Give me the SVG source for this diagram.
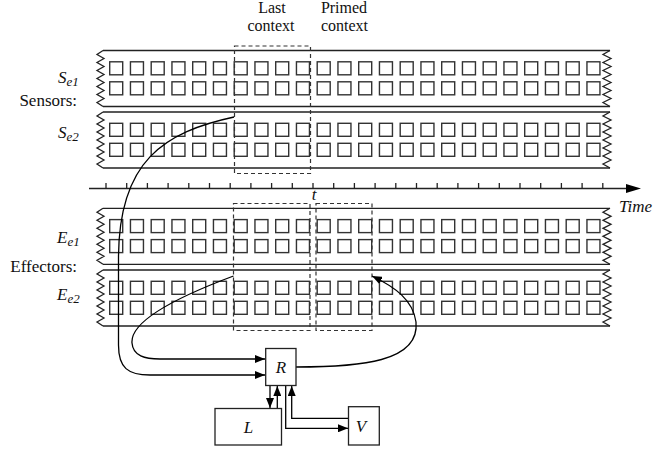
<svg xmlns="http://www.w3.org/2000/svg" xmlns:xlink="http://www.w3.org/1999/xlink" width="655" height="451" viewBox="0 0 655 451">
<style>
.ln{fill:none;stroke:#222;stroke-width:1.3}
.sq{fill:none;stroke:#333;stroke-width:1.4}
.dash{fill:none;stroke:#333;stroke-width:1.2;stroke-dasharray:4 3}
.con{fill:none;stroke:#000;stroke-width:1.3}
.box{fill:#fff;stroke:#222;stroke-width:1.3}
.t{font-family:"Liberation Serif","Times New Roman",serif;font-size:17px;fill:#111}
.h{font-size:16px}
.i{font-style:italic}
</style>
<defs>
<marker id="ah" viewBox="0 0 10 8" refX="10" refY="4" markerWidth="10" markerHeight="8" markerUnits="userSpaceOnUse" orient="auto">
<path d="M0,0 L10,4 L0,8 Z" fill="#000"/>
</marker>
<rect id="sq" class="sq" width="13" height="13"/>
<g id="row">
<use xlink:href="#sq" x="109.7"/><use xlink:href="#sq" x="130.45"/><use xlink:href="#sq" x="151.2"/><use xlink:href="#sq" x="171.95"/><use xlink:href="#sq" x="192.7"/><use xlink:href="#sq" x="213.45"/><use xlink:href="#sq" x="234.2"/><use xlink:href="#sq" x="254.95"/><use xlink:href="#sq" x="275.7"/><use xlink:href="#sq" x="296.45"/><use xlink:href="#sq" x="317.2"/><use xlink:href="#sq" x="337.95"/><use xlink:href="#sq" x="358.7"/><use xlink:href="#sq" x="379.45"/><use xlink:href="#sq" x="400.2"/><use xlink:href="#sq" x="420.95"/><use xlink:href="#sq" x="441.7"/><use xlink:href="#sq" x="462.45"/><use xlink:href="#sq" x="483.2"/><use xlink:href="#sq" x="503.95"/><use xlink:href="#sq" x="524.7"/><use xlink:href="#sq" x="545.45"/><use xlink:href="#sq" x="566.2"/><use xlink:href="#sq" x="586.95"/>
</g>
<g id="band">
<path class="ln" d="M103,0 H610 M103,56 H610"/>
<path class="ln" d="M103,0 L97,4 L104,8 L97,12 L104,16 L97,20 L104,24 L97,28 L104,32 L97,36 L104,40 L97,44 L104,48 L97,52 L103,56"/>
<path class="ln" d="M610,0 L603,4 L611,8 L603,12 L611,16 L603,20 L611,24 L603,28 L611,32 L603,36 L611,40 L603,44 L611,48 L603,52 L610,56"/>
<use xlink:href="#row" y="11.3"/>
<use xlink:href="#row" y="31.3"/>
</g>
</defs>

<g id="band-se1"><use xlink:href="#band" y="50.5"/></g>
<g id="band-se2"><use xlink:href="#band" y="112"/></g>
<g id="band-ee1"><use xlink:href="#band" y="208.3"/></g>
<g id="band-ee2"><use xlink:href="#band" y="270"/></g>

<g id="time-axis">
<path class="ln" d="M89,188.5 H630"/>
<path d="M626,184 L641,188.5 L626,193 Z" fill="#000"/>
<path class="ln" d="M106,183 V188.5 M126.7,183 V188.5 M147.4,183 V188.5 M168.1,183 V188.5 M188.8,183 V188.5 M209.5,183 V188.5 M230.2,183 V188.5 M250.9,183 V188.5 M271.6,183 V188.5 M292.3,183 V188.5 M313,183 V188.5 M333.7,183 V188.5 M354.4,183 V188.5 M375.1,183 V188.5 M395.8,183 V188.5 M416.5,183 V188.5 M437.2,183 V188.5 M457.9,183 V188.5 M478.6,183 V188.5 M499.3,183 V188.5 M520,183 V188.5 M540.7,183 V188.5 M561.4,183 V188.5 M582.1,183 V188.5 M602.8,183 V188.5"/>
<text class="t i" x="314" y="200" text-anchor="middle">t</text>
<text class="t i" x="619" y="212">Time</text>
</g>

<g id="context-boxes">
<rect class="dash" x="234.5" y="46" width="76" height="127.5"/>
<rect class="dash" x="233.5" y="203.5" width="76.5" height="127"/>
<rect class="dash" x="316" y="203.5" width="56" height="127"/>
</g>

<g id="labels">
<text class="t h" x="272" y="13" text-anchor="middle">Last</text>
<text class="t h" x="271" y="31" text-anchor="middle">context</text>
<text class="t h" x="344" y="13" text-anchor="middle">Primed</text>
<text class="t h" x="344.5" y="31" text-anchor="middle">context</text>
<text class="t i" x="58" y="83">S<tspan font-size="13" dy="3">e1</tspan></text>
<text class="t" x="77" y="106" text-anchor="end">Sensors:</text>
<text class="t i" x="58" y="138">S<tspan font-size="13" dy="3">e2</tspan></text>
<text class="t i" x="57" y="243">E<tspan font-size="13" dy="3">e1</tspan></text>
<text class="t" x="77" y="272" text-anchor="end">Effectors:</text>
<text class="t i" x="57" y="300">E<tspan font-size="13" dy="3">e2</tspan></text>
</g>

<g id="connectors">
<path class="con" d="M234,117 C165,132 118,160 118.5,260 L118.5,345 C118.5,368 128,375 150,375 L265,375" marker-end="url(#ah)"/>
<path class="con" d="M233.5,276 C180,296 130,320 132,343 C133,356 145,359 160,359 L265,359" marker-end="url(#ah)"/>
<path class="con" d="M296,367 C360,367 420,362 416,322 C413,300 395,287 372,276" marker-end="url(#ah)"/>
<path class="con" d="M270,386 V408" marker-end="url(#ah)"/>
<path class="con" d="M277.3,408 V386" marker-end="url(#ah)"/>
<path class="con" d="M285.7,386 V428.3 H348" marker-end="url(#ah)"/>
<path class="con" d="M348,418.3 H291.7 V386" marker-end="url(#ah)"/>
</g>

<g id="node-R">
<rect class="box" x="265.7" y="348.5" width="30.3" height="37"/>
<text class="t i" x="281" y="373" text-anchor="middle">R</text>
</g>
<g id="node-L">
<rect class="box" x="215" y="408.5" width="66.5" height="36.5"/>
<text class="t i" x="248.5" y="433" text-anchor="middle">L</text>
</g>
<g id="node-V">
<rect class="box" x="348.5" y="406.7" width="30.8" height="38.3"/>
<text class="t i" x="361" y="432" text-anchor="middle">V</text>
</g>
</svg>
